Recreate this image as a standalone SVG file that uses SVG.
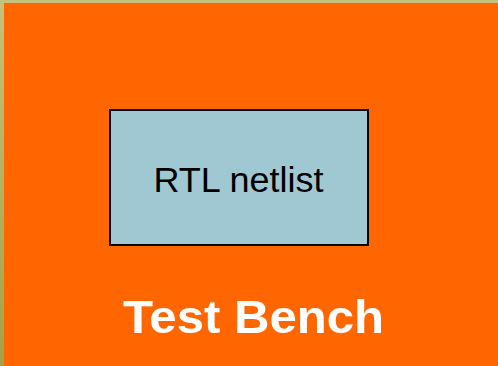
<svg xmlns="http://www.w3.org/2000/svg" width="498" height="366" viewBox="0 0 498 366">
  <defs>
    <linearGradient id="edge" x1="0" y1="0" x2="0" y2="1">
      <stop offset="0" stop-color="#c4c27c"/>
      <stop offset="1" stop-color="#a2a244"/>
    </linearGradient>
    <style>
      .label { font-family: "Liberation Sans", Arial, sans-serif; text-anchor: middle; }
    </style>
  </defs>
  <!-- slide frame -->
  <rect x="0" y="0" width="498" height="366" fill="url(#edge)"/>
  <!-- test bench area -->
  <g id="test-bench">
    <rect x="4" y="3" width="494" height="363" fill="#ff6600"/>
    <text class="label" x="253.5" y="333" font-size="47" font-weight="bold" fill="#ffffff" textLength="261" lengthAdjust="spacingAndGlyphs">Test Bench</text>
  </g>
  <!-- design under test -->
  <g id="rtl-netlist">
    <rect x="110" y="110" width="258" height="135" fill="#a0c8d2" stroke="#000000" stroke-width="2"/>
    <text class="label" x="238.5" y="192" font-size="35" fill="#000000" textLength="170" lengthAdjust="spacingAndGlyphs">RTL netlist</text>
  </g>
  <g id="connectors"/>
</svg>
